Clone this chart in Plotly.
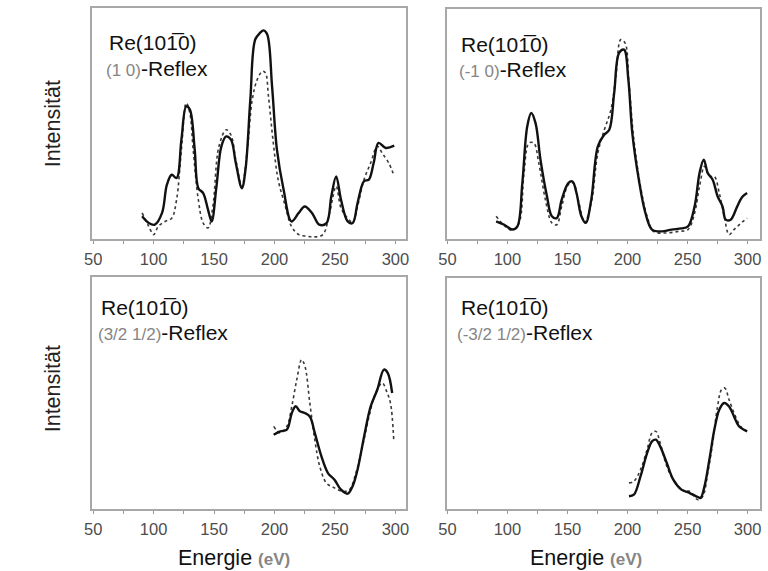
import plotly.graph_objects as go

# LEED I(V) curves of Re(10-10): experiment (solid) vs. calculation (dotted)
# Intensities in arbitrary units (0 = axis, 100 = top of panel)

# (1 0) reflex
e10_exp = [90.5, 96, 101, 107, 111, 115, 119, 123, 127, 130, 134, 137, 141, 145, 148, 152, 156, 160,
           164, 168, 173, 176, 180, 184, 188, 191, 194, 198, 202, 207.5, 214, 220, 225, 231, 237, 243,
           247, 251, 255, 260.5, 264.6, 268.7, 274, 278, 282, 286, 292, 299]
i10_exp = [9.8, 6.9, 6.2, 11.3, 23.5, 27.8, 26.4, 43, 57.4, 56, 38.7, 22, 19.9, 12.7, 7.6, 22.8, 40, 44.4,
           43, 32.9, 22, 30, 60.3, 86.3, 89.2, 90.3, 88.5, 66, 38.7, 21.4, 7.6, 11.3, 14.1, 11.3, 6.2, 6.9,
           18.5, 27.1, 17, 7.6, 6.9, 15.6, 25, 25.7, 32.9, 41.6, 39.4, 40.4]
e10_th = [90.5, 96, 100, 104, 109.5, 115, 119, 123, 127, 130, 132.7, 137, 141, 145, 149, 154, 160, 164,
          168, 173, 177.5, 181.6, 185.7, 190, 192.5, 195, 199, 203, 209, 214, 220, 227, 233, 240, 245.5,
          251, 255, 260.5, 264.6, 268.7, 274, 279.5, 285, 289, 294.5, 299]
i10_th = [11.3, 5.5, 1.9, 5.5, 7.6, 9, 17, 38.7, 58.9, 54.5, 38.7, 17, 6.9, 4.8, 14.1, 40, 47.3, 45,
          34.3, 22.8, 38.7, 60.3, 69, 72.6, 71.9, 61.8, 41.6, 25.7, 14.1, 5.5, 1.9, 1.2, 0.9, 1.9, 11.3,
          22.8, 13.4, 9, 7.2, 14.1, 25.7, 32.9, 40.1, 37.2, 32.9, 27.1]

# (-1 0) reflex
em10_exp = [90.6, 97.4, 104.2, 108.3, 112.4, 116.5, 119.8, 123.4, 127.5, 132.9, 137.0, 141.1, 145.2,
            150.7, 154.2, 157.5, 161.6, 165.2, 169.8, 175.3, 180.7, 184.8, 188.9, 193.0, 197.1, 200.7,
            204.0, 209.4, 214.9, 220.4, 228.6, 236.7, 244.9, 250.4, 255.9, 260.0, 263.5, 266.8, 270.9,
            275.0, 279.1, 281.8, 285.9, 291.4, 295.5, 299.6]
im10_exp = [7.7, 6.2, 4.1, 5.5, 24.3, 49, 54.8, 50.4, 34.5, 18.6, 9.9, 9.1, 17.1, 24.3, 25, 20, 9.9, 7,
            17.1, 40.3, 45.4, 47.5, 63.5, 80.9, 82.3, 69.3, 46, 25.8, 11.3, 4.1, 3.3, 4.1, 4.6, 5.5, 14.2,
            28.7, 34.5, 28.7, 25.8, 18.6, 14.2, 8.4, 8.4, 14.2, 18.3, 20]
em10_th = [90.6, 97.4, 104.2, 109.7, 113.8, 117.9, 122.0, 126.1, 131.6, 137.0, 141.1, 145.2, 150.7, 154.8,
           158.9, 164.3, 169.8, 175.3, 180.7, 186.2, 190.3, 194.4, 198.0, 201.2, 205.3, 210.8, 216.3,
           221.7, 231.3, 242.2, 250.4, 255.9, 260.0, 264.1, 268.2, 272.3, 276.4, 280.5, 284.6, 288.7,
           294.1, 299.6]
im10_th = [9.9, 5.8, 3.8, 7, 28.7, 41.7, 41.7, 33, 17.1, 7, 6.2, 14.2, 23.6, 24.3, 17.1, 7.2, 15.7, 37.4,
           47.5, 56.2, 70.7, 86.7, 85.2, 67.8, 43.2, 22.9, 9.9, 3.3, 2.6, 3.3, 4.1, 11.3, 22.9, 31.6, 27.2,
           27.2, 20, 9.9, 1.9, 4.1, 6.7, 9.1]

# (3/2 1/2) reflex
e32_exp = [199.3, 204.8, 210.2, 214.3, 217.5, 221, 225, 229.2, 233.3, 238.8, 244.2, 249.6, 255, 260.5,
           264.6, 268.7, 274.1, 279.6, 285, 290.5, 293.7, 297.3]
i32_exp = [32, 33.5, 34.2, 41.4, 44.3, 42.1, 41.4, 39.9, 32.8, 22.7, 15.5, 12.6, 8.3, 6.6, 9.8, 17, 31.3,
           44.3, 51.4, 60.1, 58.6, 50]
e32_th = [199.3, 204.8, 210.2, 214.3, 218.4, 222.4, 225.2, 229.2, 233.3, 237.4, 242.9, 249.6, 256.4,
          261.9, 267.3, 272.8, 278.2, 283.6, 289.1, 293.2, 295.9, 298.6]
i32_th = [35.6, 32.8, 35.6, 44.3, 55.7, 64.4, 61.5, 45.7, 29.9, 18.4, 11.2, 9.1, 7.6, 8.3, 15.5, 27,
          39.9, 50, 54.3, 50, 45.7, 29.9]

# (-3/2 1/2) reflex
em32_exp = [201.2, 205.3, 210.8, 216.3, 220.4, 223.6, 227.2, 232.7, 238.1, 244.9, 251.8, 257.2, 260.8,
            264.1, 268.2, 272.3, 276.4, 280.5, 284.6, 288.7, 292.8, 299.6]
im32_exp = [5.5, 6.2, 14.1, 24.2, 29.3, 30, 27.1, 19.9, 12.7, 8.4, 6.9, 5.5, 4.8, 9.8, 21.4, 34.3, 43,
            45.9, 44.4, 40.1, 35.8, 33.6]
em32_th = [201.2, 205.3, 210.8, 216.3, 220.4, 223.6, 227.2, 232.7, 238.1, 244.9, 251.8, 258.6, 262.7,
           266.8, 270.9, 275.0, 278.3, 281.0, 284.6, 288.7, 294.1, 299.6]
im32_th = [11.3, 12, 17, 25.7, 32.9, 33.6, 28.6, 18.5, 12.7, 8.4, 7.6, 4, 5.5, 15.6, 28.6, 44.4, 51.7,
           52.4, 47.3, 41.6, 35.8, 33.6]

panels = [
    ("(1 0)", e10_exp, i10_exp, e10_th, i10_th),
    ("(-1 0)", em10_exp, im10_exp, em10_th, im10_th),
    ("(3/2 1/2)", e32_exp, i32_exp, e32_th, i32_th),
    ("(-3/2 1/2)", em32_exp, im32_exp, em32_th, im32_th),
]

tick_vals = [50, 100, 150, 200, 250, 300]
tick_text = ["50", "100", "150", "200", "250", "300"]

W, H = 768, 571
# panel boxes in pixels: (left, top, right, bottom)
boxes = [(84, 8, 403, 239), (445, 9, 763, 239), (84, 277, 403, 509), (445, 278, 763, 509)]
xranges = [[48.8, 308.5], [49.7, 310.4], [48.8, 308.5], [49.7, 310.4]]
# caption anchor points in pixels: (first line x, second line x, first line y)
captions = [(100, 96, 43), (457, 455, 45), (91, 88, 307), (457, 453, 307)]

FONT = "Liberation Sans, Arial, sans-serif"
fig = go.Figure()
layout = dict(
    width=W, height=H, margin=dict(l=0, r=0, t=0, b=0),
    paper_bgcolor="white", plot_bgcolor="white", showlegend=False,
    font=dict(family=FONT, color="#111"),
)
annotations = []

for k, (refl, ex, iy, tx, ty) in enumerate(panels):
    n = "" if k == 0 else str(k + 1)
    xa, ya = "x" + n, "y" + n
    fig.add_trace(go.Scatter(x=tx, y=ty, xaxis=xa, yaxis=ya, mode="lines", line_shape="spline",
                             line=dict(color="#3a3a3a", width=1.6, dash="dot")))
    fig.add_trace(go.Scatter(x=ex, y=iy, xaxis=xa, yaxis=ya, mode="lines", line_shape="spline",
                             line=dict(color="#111", width=2.4)))
    l, t, r, b = boxes[k]
    layout["xaxis" + n] = dict(
        domain=[l / W, r / W], range=xranges[k], anchor=ya,
        tickvals=tick_vals, ticktext=tick_text, ticks="outside", ticklen=3, tickcolor="#999",
        minor=dict(dtick=25, tick0=50, ticks="outside", ticklen=3, tickcolor="#999"),
        showline=True, mirror=True, linecolor="#a8a8a8", linewidth=1.6,
        showgrid=False, zeroline=False,
        tickfont=dict(size=16.5, color="#4d4d4d", family=FONT), ticklabelstandoff=1,
    )
    layout["yaxis" + n] = dict(
        domain=[1 - b / H, 1 - t / H], range=[0, 100], anchor=xa,
        showticklabels=False, ticks="", showline=True, mirror=True,
        linecolor="#a8a8a8", linewidth=1.6, showgrid=False, zeroline=False,
    )
    # panel caption
    x1, x2, y1 = captions[k]
    annotations.append(dict(
        xref="paper", yref="paper", x=x1 / W, y=1 - y1 / H, xanchor="left", yanchor="middle",
        text="Re(101\u03050)", showarrow=False, font=dict(size=21, color="#111", family=FONT)))
    annotations.append(dict(
        xref="paper", yref="paper", x=x2 / W, y=1 - (y1 + 25) / H, xanchor="left",
        yanchor="middle", showarrow=False,
        text=f"<span style='font-size:17px;color:#858585'>{refl}</span>-Reflex",
        font=dict(size=21, color="#111", family=FONT)))

for yc in (124, 389):
    annotations.append(dict(
        xref="paper", yref="paper", x=45 / W, y=1 - yc / H, xanchor="center", yanchor="middle",
        text="Intensität", textangle=-90, showarrow=False,
        font=dict(size=21.5, color="#222", family=FONT)))

for xl in (170, 527):
    annotations.append(dict(
        xref="paper", yref="paper", x=xl / W, y=1 - 558 / H, xanchor="left", yanchor="middle",
        text="Energie <span style='font-size:17px;color:#858585'><b>(eV)</b></span>",
        showarrow=False, font=dict(size=21.5, color="#111", family=FONT)))

layout["annotations"] = annotations
fig.update_layout(**layout)
fig.write_html("out.html")
